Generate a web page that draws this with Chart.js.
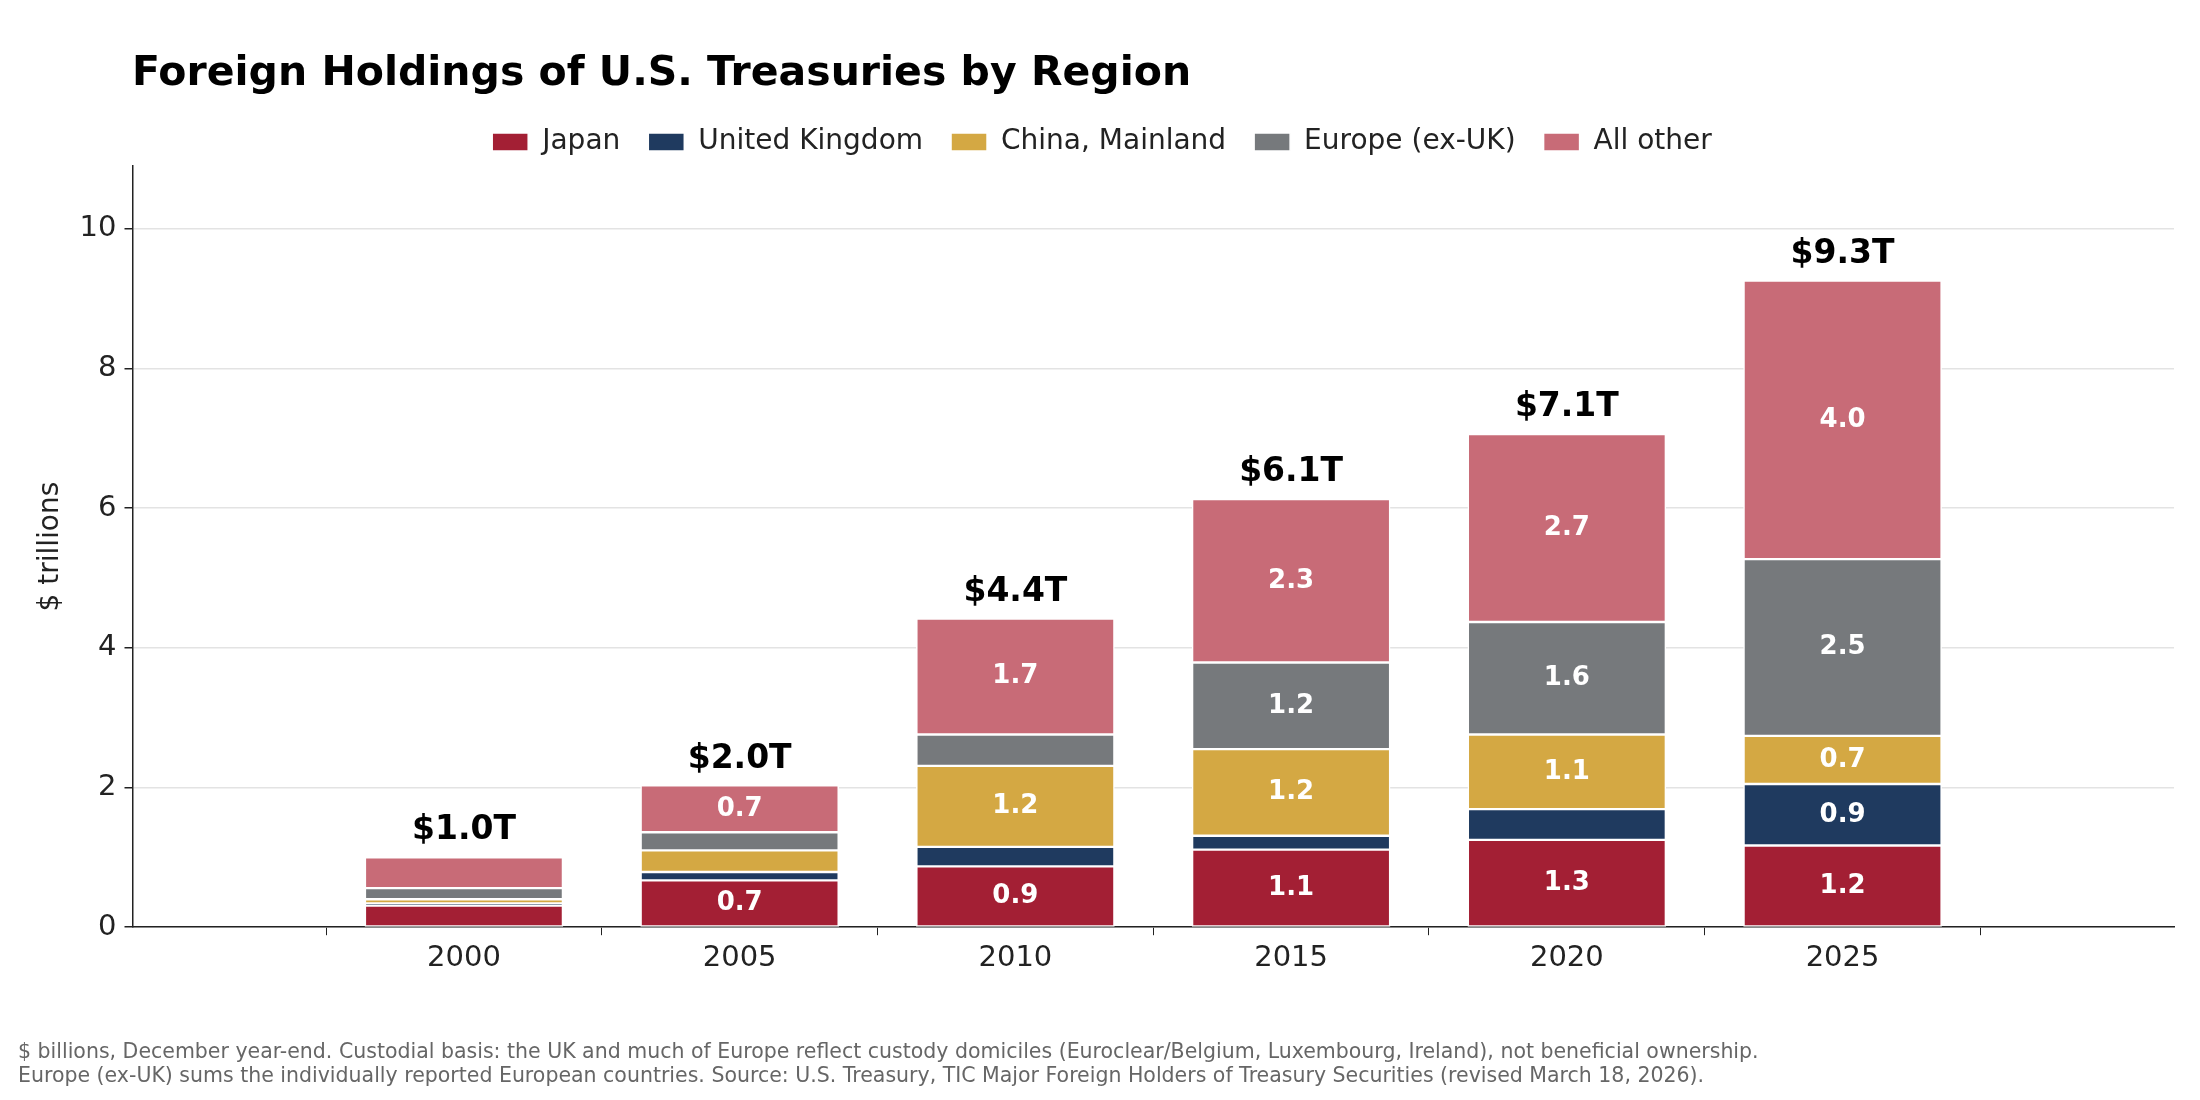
<!DOCTYPE html>
<html>
<head>
<meta charset="utf-8">
<script src="https://cdn.jsdelivr.net/npm/chart.js@4"></script>
<style>
  body { margin: 0; background: #fff; }
</style>
</head>
<body>
<canvas id="c" width="2200" height="1100"></canvas>
<script>
const years = ['2000', '2005', '2010', '2015', '2020', '2025'];
const japan = [0.31, 0.67, 0.87, 1.11, 1.25, 1.17];
const uk = [0.03, 0.12, 0.28, 0.20, 0.44, 0.88];
const china = [0.06, 0.31, 1.16, 1.24, 1.07, 0.69];
const europe = [0.16, 0.26, 0.45, 1.24, 1.61, 2.53];
const allOther = [0.44, 0.67, 1.66, 2.34, 2.69, 3.99];
const totalLabels = ['$1.0T', '$2.0T', '$4.4T', '$6.1T', '$7.1T', '$9.3T'];
const yTicks = [0, 2, 4, 6, 8, 10];

const FONT = "'DejaVu Sans', sans-serif";

function ds(label, data, color) {
  return {
    label,
    data: data.map((v, i) => ({ x: i, y: v })),
    backgroundColor: color,
    borderColor: '#ffffff',
    borderWidth: 1.5,
    borderSkipped: false,
    barThickness: 198
  };
}

const extras = {
  id: 'extras',
  afterDatasetsDraw(chart) {
    const ctx = chart.ctx;
    const x = chart.scales.x, y = chart.scales.y;
    ctx.save();
    ctx.textAlign = 'center';
    ctx.textBaseline = 'middle';
    chart.data.datasets.forEach((d, di) => {
      const meta = chart.getDatasetMeta(di);
      meta.data.forEach((bar, i) => {
        const v = d.data[i].y;
        if (v < 0.5) return;
        ctx.fillStyle = '#ffffff';
        ctx.font = 'bold 26px ' + FONT;
        ctx.fillText(v.toFixed(1), bar.x, (bar.y + bar.base) / 2);
      });
    });
    years.forEach((yr, i) => {
      const sum = japan[i] + uk[i] + china[i] + europe[i] + allOther[i];
      ctx.fillStyle = '#000000';
      ctx.font = 'bold 33px ' + FONT;
      ctx.textBaseline = 'bottom';
      ctx.fillText(totalLabels[i], x.getPixelForValue(i), y.getPixelForValue(sum) - 10);
      ctx.textBaseline = 'middle';
    });
    ctx.restore();
  },
  afterDraw(chart) {
    const ctx = chart.ctx;
    ctx.save();
    ctx.fillStyle = '#000000';
    ctx.font = 'bold 41px ' + FONT;
    ctx.textAlign = 'left';
    ctx.textBaseline = 'middle';
    ctx.fillText('Foreign Holdings of U.S. Treasuries by Region', 132, 74);
    ctx.fillStyle = '#666666';
    ctx.font = '20.5px ' + FONT;
    ctx.fillText('$ billions, December year-end. Custodial basis: the UK and much of Europe reflect custody domiciles (Euroclear/Belgium, Luxembourg, Ireland), not beneficial ownership.', 18, 1053);
    ctx.fillText('Europe (ex-UK) sums the individually reported European countries. Source: U.S. Treasury, TIC Major Foreign Holders of Treasury Securities (revised March 18, 2026).', 18, 1077);
    ctx.restore();
  }
};

new Chart(document.getElementById('c'), {
  type: 'bar',
  data: {
    datasets: [
      ds('Japan', japan, '#a31f34'),
      ds('United Kingdom', uk, '#1f3a5f'),
      ds('China, Mainland', china, '#d4a843'),
      ds('Europe (ex-UK)', europe, '#76797c'),
      ds('All other', allOther, '#c86b77')
    ]
  },
  options: {
    responsive: false,
    devicePixelRatio: 1,
    animation: false,
    layout: { padding: { top: 100, right: 26, bottom: 118, left: 30 } },
    plugins: {
      legend: {
        position: 'top',
        labels: {
          boxWidth: 36, boxHeight: 18, padding: 28,
          color: '#222', font: { size: 28, family: FONT }
        }
      },
      tooltip: { enabled: false }
    },
    scales: {
      x: {
        type: 'linear',
        stacked: true,
        min: -0.585, max: 5.585,
        afterBuildTicks(scale) { scale.ticks = years.map((_, i) => ({ value: i })); },
        grid: { display: true, drawOnChartArea: false, drawTicks: true, tickColor: '#222', tickLength: 8 },
        border: { color: '#222', width: 1.5 },
        ticks: { color: '#222', font: { size: 29, family: FONT }, padding: 6, callback: v => years[v] }
      },
      y: {
        stacked: true,
        min: 0, max: 10.9,
        afterBuildTicks(scale) { scale.ticks = yTicks.map(v => ({ value: v })); },
        grid: { color: '#e3e3e3', lineWidth: 1.5, drawTicks: true, tickColor: '#222', tickLength: 8 },
        border: { color: '#222', width: 1.5 },
        ticks: { color: '#222', font: { size: 29, family: FONT }, padding: 8 },
        title: { display: true, text: '$ trillions', color: '#222', font: { size: 28, family: FONT } }
      }
    }
  },
  plugins: [extras]
});
</script>
</body>
</html>
